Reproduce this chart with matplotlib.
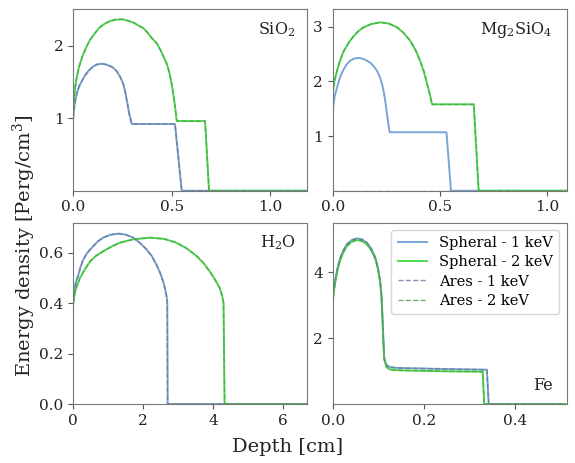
import matplotlib
matplotlib.use("Agg")
import matplotlib.pyplot as plt

plt.rcParams['font.family'] = 'DejaVu Serif'
plt.rcParams['mathtext.fontset'] = 'dejavuserif'

# ---- data ----
# SiO2
sio2_x1 = [0, 0.002, 0.006, 0.012, 0.02, 0.03, 0.045, 0.06, 0.08, 0.1, 0.12, 0.144, 0.165,
           0.185, 0.2, 0.22, 0.24, 0.254, 0.265, 0.275, 0.285, 0.297, 0.517, 0.551, 1.19]
sio2_y1 = [1.0, 1.08, 1.17, 1.27, 1.36, 1.44, 1.52, 1.59, 1.66, 1.71, 1.74, 1.75, 1.74,
           1.72, 1.70, 1.65, 1.56, 1.47, 1.35, 1.2, 1.05, 0.92, 0.92, 0.0, 0.0]
sio2_x2 = [0, 0.003, 0.008, 0.015, 0.025, 0.034, 0.05, 0.07, 0.085, 0.11, 0.13, 0.153, 0.18,
           0.21, 0.235, 0.254, 0.28, 0.31, 0.335, 0.356, 0.38, 0.40, 0.424, 0.445, 0.46,
           0.475, 0.488, 0.5, 0.513, 0.526, 0.67, 0.69, 1.19]
sio2_y2 = [1.1, 1.25, 1.4, 1.53, 1.66, 1.75, 1.88, 2.0, 2.08, 2.17, 2.24, 2.29, 2.33,
           2.355, 2.36, 2.36, 2.34, 2.31, 2.27, 2.24, 2.17, 2.10, 2.03, 1.93, 1.84,
           1.75, 1.63, 1.47, 1.25, 0.96, 0.96, 0.0, 0.0]

# Mg2SiO4
mg_x1 = [0, 0.003, 0.008, 0.014, 0.02, 0.03, 0.04, 0.051, 0.065, 0.082, 0.1, 0.126, 0.15,
         0.176, 0.195, 0.207, 0.22, 0.23, 0.238, 0.245, 0.253, 0.26, 0.266, 0.53, 0.551, 1.09]
mg_y1 = [1.4, 1.55, 1.7, 1.8, 1.88, 2.02, 2.13, 2.22, 2.31, 2.38, 2.42, 2.43, 2.40,
         2.34, 2.26, 2.19, 2.08, 1.95, 1.81, 1.64, 1.40, 1.20, 1.07, 1.07, 0.0, 0.0]
mg_x2 = [0, 0.004, 0.01, 0.02, 0.035, 0.051, 0.075, 0.098, 0.12, 0.144, 0.18, 0.222, 0.26,
         0.3, 0.33, 0.362, 0.385, 0.408, 0.425, 0.44, 0.452, 0.463, 0.657, 0.68, 1.09]
mg_y2 = [1.75, 1.9, 2.03, 2.19, 2.39, 2.55, 2.71, 2.83, 2.92, 2.99, 3.05, 3.08, 3.06,
         2.99, 2.89, 2.74, 2.58, 2.37, 2.18, 1.95, 1.77, 1.58, 1.58, 0.0, 0.0]
mg_ares_x1 = [0, 1.09]
mg_ares_y1 = [0.0, 0.0]

# H2O
h2o_x1 = [0, 0.03, 0.06, 0.095, 0.15, 0.21, 0.286, 0.4, 0.571, 0.7, 0.857, 1.05, 1.29, 1.5,
          1.71, 1.9, 2.1, 2.25, 2.38, 2.48, 2.57, 2.63, 2.67, 2.69, 2.70, 6.7]
h2o_y1 = [0.407, 0.45, 0.475, 0.493, 0.515, 0.545, 0.573, 0.60, 0.626, 0.645, 0.66, 0.671,
          0.676, 0.672, 0.66, 0.64, 0.613, 0.586, 0.553, 0.522, 0.487, 0.455, 0.427, 0.40,
          0.0, 0.0]
h2o_x2 = [0, 0.05, 0.1, 0.19, 0.3, 0.48, 0.65, 0.857, 1.1, 1.33, 1.7, 2.19, 2.6, 2.95, 3.25,
          3.53, 3.72, 3.9, 4.05, 4.19, 4.26, 4.3, 4.33, 6.7]
h2o_y2 = [0.40, 0.445, 0.467, 0.50, 0.527, 0.566, 0.588, 0.606, 0.625, 0.64, 0.653, 0.66,
          0.655, 0.64, 0.617, 0.587, 0.56, 0.527, 0.495, 0.46, 0.43, 0.40, 0.0, 0.0]

# Fe
fe_x1 = [0, 0.002, 0.006, 0.011, 0.017, 0.024, 0.031, 0.042, 0.053, 0.064, 0.075, 0.085,
         0.0935, 0.099, 0.104, 0.107, 0.109, 0.111, 0.113, 0.117, 0.123, 0.135, 0.15, 0.25,
         0.338, 0.342, 0.51]
fe_y1 = [3.1, 3.4, 3.79, 4.15, 4.44, 4.67, 4.84, 4.97, 5.02, 4.99, 4.89, 4.70, 4.44, 4.15,
         3.74, 3.3, 2.7, 2.0, 1.4, 1.2, 1.13, 1.1, 1.09, 1.06, 1.04, 0.0, 0.0]
fe_x2 = [0, 0.002, 0.006, 0.011, 0.017, 0.024, 0.031, 0.042, 0.053, 0.064, 0.075, 0.085,
         0.0935, 0.099, 0.104, 0.107, 0.109, 0.111, 0.113, 0.118, 0.125, 0.135, 0.15, 0.25,
         0.329, 0.332, 0.51]
fe_y2 = [3.05, 3.35, 3.72, 4.08, 4.38, 4.61, 4.78, 4.92, 4.97, 4.94, 4.84, 4.65, 4.40, 4.10,
         3.70, 3.25, 2.65, 1.95, 1.35, 1.12, 1.05, 1.03, 1.02, 0.99, 0.98, 0.0, 0.0]

labels = ["Spheral - 1 keV", "Spheral - 2 keV", "Ares - 1 keV", "Ares - 2 keV"]

spheral1_color = '#78a6d6'
spheral2_color = '#4cdc4c'
ares1_color = '#6b7896'
ares2_color = '#4ea24e'

panels = [
    # name, spheral 1, spheral 2, ares 1, ares 2, xlim, ylim, xticks, yticks, text pos
    (r"SiO$_2$", (sio2_x1, sio2_y1), (sio2_x2, sio2_y2), (sio2_x1, sio2_y1), (sio2_x2, sio2_y2),
     (0, 1.19), (0.0, 2.5), [0, 0.5, 1.0], [1, 2], (0.95, 0.90)),
    (r"Mg$_2$SiO$_4$", (mg_x1, mg_y1), (mg_x2, mg_y2), (mg_ares_x1, mg_ares_y1), (mg_x2, mg_y2),
     (0, 1.09), (0.0, 3.32), [0, 0.5, 1.0], [1, 2, 3], (0.94, 0.90)),
    (r"H$_2$O", (h2o_x1, h2o_y1), (h2o_x2, h2o_y2), (h2o_x1, h2o_y1), (h2o_x2, h2o_y2),
     (0, 6.7), (0.0, 0.72), [0, 2, 4, 6], [0.0, 0.2, 0.4, 0.6], (0.95, 0.90)),
    ("Fe", (fe_x1, fe_y1), (fe_x2, fe_y2), (fe_x1, fe_y1), (fe_x2, fe_y2),
     (0, 0.513), (0.0, 5.5), [0.0, 0.2, 0.4], [2, 4], (0.94, 0.10)),
]

fig, axes = plt.subplots(2, 2, figsize=(5.75, 4.63), dpi=100)
fig.subplots_adjust(left=0.1275, right=0.9856, bottom=0.1274, top=0.980,
                    wspace=0.108, hspace=0.175)

for ax, (name, s1, s2, a1, a2, xlim, ylim, xt, yt, tpos) in zip(axes.flat, panels):
    ax.plot(s1[0], s1[1], '-', lw=1.4, color=spheral1_color, label=labels[0])
    ax.plot(s2[0], s2[1], '-', lw=1.4, color=spheral2_color, label=labels[1])
    ax.plot(a1[0], a1[1], '--', lw=1.0, color=ares1_color, alpha=0.8, label=labels[2])
    ax.plot(a2[0], a2[1], '--', lw=1.0, color=ares2_color, alpha=0.8, label=labels[3])

    ax.set_xlim(*xlim)
    ax.set_ylim(*ylim)
    ax.set_xticks(xt)
    ax.set_yticks(yt)
    ax.tick_params(labelsize=11, color='#555555', labelcolor='#222222', length=3.5)
    for sp in ax.spines.values():
        sp.set_color('#777777')

    va = 'top' if tpos[1] > 0.5 else 'center'
    ax.text(tpos[0], tpos[1] + (0.04 if va == 'top' else 0), name, transform=ax.transAxes,
            ha='right', va=va, fontsize=11.5, color='#222222')

axes[1, 1].legend(loc='upper right', fontsize=10.5, handlelength=2.0,
                  framealpha=0.8, borderpad=0.45, labelspacing=0.35)

fig.text(0.5, 0.035, "Depth [cm]", ha='center', va='center', fontsize=14, color='#222222')
fig.text(0.043, 0.47, r"Energy density [Perg/cm$^3$]", ha='center', va='center',
         rotation=90, fontsize=14, color='#222222')

fig.savefig("out.png", dpi=100)
